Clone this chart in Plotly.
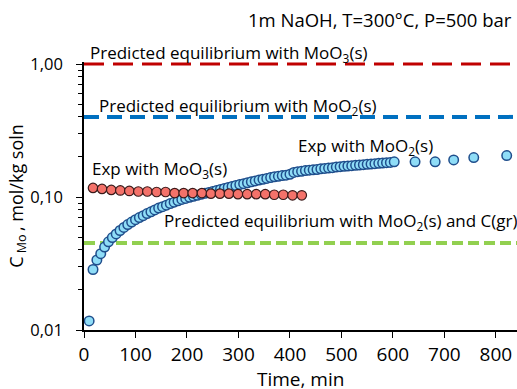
import plotly.graph_objects as go

# ---- data ----
t_mo2 = [10, 17.5, 25, 32.5, 40, 47.5, 55, 62.5, 70, 77.5, 85, 92.5, 100, 107.5, 115, 122.5,
         130, 137.5, 145, 152.5, 160, 167.5, 175, 182.5, 190, 197.5, 205, 212.5, 220, 227.5,
         235, 242.5, 250, 257.5, 265, 272.5, 280, 287.5, 295, 302.5, 310, 317.5, 325, 332.5,
         340, 347.5, 355, 362.5, 370, 377.5, 385, 392.5, 400, 407.5, 415, 422.5, 430, 437.5,
         445, 452.5, 460, 467.5, 475, 482.5, 490, 497.5, 505, 512.5, 520, 527.5, 535, 542.5,
         550, 557.5, 565, 572.5, 580, 587.5, 595, 602.5, 643, 682, 718, 757, 821]
c_mo2 = [0.0117, 0.0285, 0.0336, 0.0375, 0.0420, 0.0460, 0.0495, 0.0528, 0.0560, 0.0590,
         0.0620, 0.0648, 0.0675, 0.0700, 0.0723, 0.0750, 0.0773, 0.0800, 0.0825, 0.0845,
         0.0868, 0.0893, 0.0915, 0.0937, 0.0958, 0.0976, 0.0995, 0.1013, 0.1030, 0.1048,
         0.1065, 0.1083, 0.110, 0.112, 0.114, 0.116, 0.118, 0.120, 0.122, 0.124,
         0.126, 0.128, 0.130, 0.132, 0.134, 0.136, 0.138, 0.140, 0.142, 0.143,
         0.145, 0.146, 0.148, 0.153, 0.155, 0.156, 0.158, 0.159, 0.160, 0.161,
         0.163, 0.164, 0.165, 0.166, 0.168, 0.169, 0.170, 0.171, 0.172, 0.173,
         0.174, 0.175, 0.176, 0.177, 0.178, 0.179, 0.180, 0.181, 0.182, 0.184,
         0.184, 0.184, 0.190, 0.198, 0.205]

t_mo3 = [17.5, 35, 53, 70.5, 88, 105.5, 123, 141, 158.5, 176, 193.5, 211, 229, 246.5,
         264, 281.5, 299, 317, 334.5, 352, 369.5, 387, 405, 423]
c_mo3 = [0.117, 0.115, 0.113, 0.112, 0.111, 0.110, 0.110, 0.109, 0.109, 0.107, 0.107, 0.107,
         0.107, 0.106, 0.106, 0.106, 0.105, 0.105, 0.105, 0.105, 0.104, 0.104, 0.103, 0.103]

eq_moo3 = 1.0
eq_moo2 = 0.40
eq_moo2_c = 0.045

x_ticks = [0, 100, 200, 300, 400, 500, 600, 700, 800]
y_tickvals = [0.01, 0.1, 1.0]
y_ticktext = ["0,01", "0,10", "1,00"]
y_minor = [0.02, 0.03, 0.04, 0.05, 0.06, 0.07, 0.08, 0.09,
           0.2, 0.3, 0.4, 0.5, 0.6, 0.7, 0.8, 0.9]

X_MAX = 841
FONT = "Open Sans"

fig = go.Figure()

for val, col, w, dash in [(eq_moo3, "#C00000", 3, "20px,9px"),
                          (eq_moo2, "#0070C0", 4, "15px,8px"),
                          (eq_moo2_c, "#92D050", 4, "11px,5px")]:
    fig.add_trace(go.Scatter(x=[0, X_MAX], y=[val, val], mode="lines",
                             line=dict(color=col, width=w, dash=dash),
                             hoverinfo="skip", showlegend=False))

fig.add_trace(go.Scatter(x=t_mo2, y=c_mo2, mode="markers",
                         marker=dict(size=9.5, color="#8FDDF7",
                                     line=dict(color="#1F4E8C", width=1.5)),
                         showlegend=False, cliponaxis=False))
fig.add_trace(go.Scatter(x=t_mo3, y=c_mo3, mode="markers",
                         marker=dict(size=9.5, color="#F4726A",
                                     line=dict(color="#3A1A1A", width=1.2)),
                         showlegend=False, cliponaxis=False))

tf = dict(family=FONT, size=17, color="black")


def py(px):
    return (330 - px) / 268


def px_x(px):
    return (px - 84) / 433


ann = [
    (89, 53, "Predicted equilibrium with MoO<sub>3</sub>(s)"),
    (98, 106, "Predicted equilibrium with MoO<sub>2</sub>(s)"),
    (91, 169, "Exp with MoO<sub>3</sub>(s)"),
    (297, 146, "Exp with MoO<sub>2</sub>(s)"),
    (163, 221, "Predicted equilibrium with MoO<sub>2</sub>(s) and C(gr)"),
]
for x, y, txt in ann:
    fig.add_annotation(xref="paper", yref="paper", x=px_x(x), y=py(y), text=txt,
                       showarrow=False, xanchor="left", yanchor="middle", font=tf,
                       borderpad=0)

fig.add_annotation(xref="paper", yref="paper", x=px_x(513), y=py(19),
                   text="1m NaOH, T=300°C, P=500 bar", showarrow=False,
                   xanchor="right", yanchor="middle",
                   font=dict(family=FONT, size=18.5, color="black"), borderpad=0)

# x-axis title placed just below the tick labels
fig.add_annotation(xref="paper", yref="paper", x=px_x(300), y=py(379),
                   text="Time, min", showarrow=False, xanchor="center", yanchor="middle",
                   font=dict(family=FONT, size=19, color="black"), borderpad=0)

fig.update_layout(
    width=517, height=389,
    margin=dict(l=84, r=0, t=62, b=59),
    paper_bgcolor="white", plot_bgcolor="white",
    font=dict(family=FONT, size=16, color="black"),
    xaxis=dict(range=[0, X_MAX], tickvals=x_ticks, ticks="outside", ticklen=6,
               tickwidth=1.2, tickcolor="black", showline=True, linecolor="black",
               linewidth=1.5, showgrid=False, zeroline=False,
               tickfont=dict(family=FONT, size=19)),
    yaxis=dict(type="log", range=[-2, 0.015], tickvals=y_tickvals, ticktext=y_ticktext,
               ticks="outside", ticklen=6, tickwidth=1.2, tickcolor="black",
               ticklabelstandoff=10,
               showline=True, linecolor="black", linewidth=1.5, showgrid=False,
               zeroline=False, tickfont=dict(family=FONT, size=16.5),
               minor=dict(tickvals=y_minor, ticks="outside", ticklen=4,
                          tickcolor="black", tickwidth=1, showgrid=False),
               title=dict(text="C<sub> Mo </sub>, mol/kg soln",
                          font=dict(family=FONT, size=18), standoff=2)),
)

fig.write_html("out.html")
